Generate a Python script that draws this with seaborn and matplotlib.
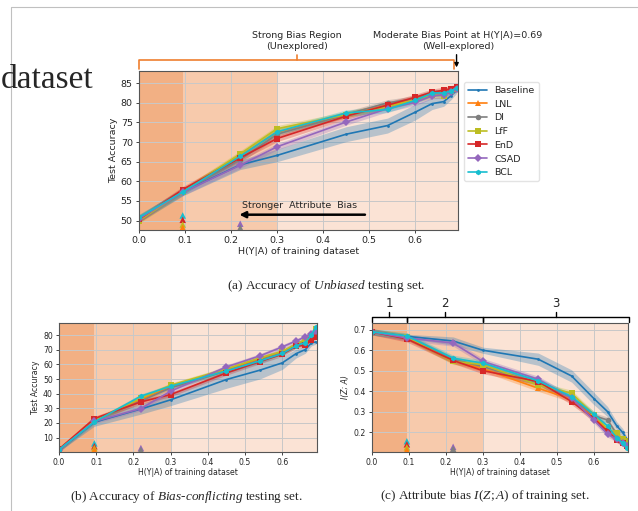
import matplotlib
matplotlib.use("Agg")
import numpy as np
import pandas as pd
import matplotlib.pyplot as plt
import seaborn as sns
from matplotlib.lines import Line2D

# H(Y|A) values of the training sets
h_vals = [0.0, 0.095, 0.22, 0.30, 0.45, 0.54, 0.60, 0.637, 0.662, 0.678, 0.69]
methods = ["Baseline", "LNL", "DI", "LfF", "EnD", "CSAD", "BCL"]
colors = ["#1f77b4", "#ff7f0e", "#7f7f7f", "#bcbd22", "#d62728", "#9467bd", "#17becf"]
markers = [".", "^", "o", "s", "s", "D", "h"]

# (a) unbiased test accuracy
unb_baseline = [50.5, 57.3, 64.2, 66.6, 72.0, 74.2, 77.6, 79.8, 80.3, 81.8, 83.2]
unb_lnl = [50.5, 57.5, 66.5, 72.5, 77.0, 79.3, 81.0, 82.3, 82.8, 83.2, 83.8]
unb_di = [50.5, 57.5, 65.5, 72.0, 77.0, 80.0, 81.0, 82.5, 82.7, 83.3, 83.8]
unb_lff = [50.0, 57.4, 67.0, 73.4, 77.0, 79.0, 80.8, 82.0, 81.8, 83.0, 83.5]
unb_end = [50.3, 57.9, 66.0, 70.9, 76.6, 79.4, 81.4, 82.7, 83.2, 83.6, 84.0]
unb_csad = [50.5, 57.2, 64.1, 68.8, 75.1, 78.5, 80.1, 81.8, 82.0, 82.8, 83.5]
unb_bcl = [50.8, 57.3, 66.4, 72.6, 77.4, 78.3, 80.6, 82.5, 82.5, 83.0, 83.8]
unb_base_std = [1.0, 1.0, 1.2, 1.6, 1.9, 1.9, 2.0, 1.5, 1.2, 1.0, 0.8]
unb_other_std = 0.8

# (b) bias-conflicting test accuracy
bc_baseline = [1.5, 20.5, 29.5, 35.8, 49.7, 56.1, 61.1, 67.4, 70.2, 74.7, 75.4]
bc_lnl = [1.8, 21.5, 36.0, 44.5, 56.0, 64.0, 68.5, 73.5, 76.5, 79.0, 83.0]
bc_di = [1.8, 21.5, 35.0, 44.0, 55.5, 63.0, 68.0, 73.0, 76.0, 78.5, 82.0]
bc_lff = [1.8, 21.5, 37.0, 45.8, 57.0, 64.5, 69.0, 74.0, 77.0, 79.5, 84.0]
bc_end = [2.0, 23.0, 34.4, 39.4, 54.2, 62.0, 67.0, 72.5, 73.1, 76.6, 78.9]
bc_csad = [1.5, 21.0, 29.8, 41.7, 58.3, 65.9, 72.0, 76.1, 78.9, 81.0, 83.0]
bc_bcl = [1.8, 20.7, 38.3, 45.1, 55.6, 62.4, 67.5, 72.7, 75.0, 80.0, 85.7]
bc_base_std = [1.0, 2.8, 3.5, 4.0, 6.0, 6.0, 4.5, 3.0, 2.5, 2.0, 1.5]
bc_other_std = 1.5

# (c) attribute bias I(Z;A)
mi_baseline = [0.69, 0.668, 0.645, 0.60, 0.556, 0.474, 0.364, 0.30, 0.23, 0.198, 0.163]
mi_lnl = [0.69, 0.665, 0.55, 0.51, 0.414, 0.36, 0.275, 0.205, 0.165, 0.15, 0.13]
mi_di = [0.69, 0.665, 0.555, 0.52, 0.44, 0.37, 0.28, 0.259, 0.19, 0.16, 0.135]
mi_lff = [0.69, 0.665, 0.545, 0.53, 0.43, 0.39, 0.285, 0.215, 0.195, 0.165, 0.155]
mi_end = [0.69, 0.655, 0.55, 0.50, 0.447, 0.349, 0.267, 0.203, 0.163, 0.145, 0.13]
mi_csad = [0.69, 0.66, 0.635, 0.545, 0.458, 0.365, 0.259, 0.19, 0.165, 0.145, 0.13]
mi_bcl = [0.69, 0.67, 0.561, 0.537, 0.45, 0.373, 0.287, 0.23, 0.171, 0.147, 0.122]
mi_base_std = [0.005, 0.01, 0.02, 0.015, 0.03, 0.03, 0.03, 0.025, 0.02, 0.02, 0.01]
mi_other_std = 0.015

# triangles sitting on the lower edge
tri_h = [0.095, 0.095, 0.095, 0.095, 0.22, 0.22]
tri_methods = ["BCL", "EnD", "LfF", "LNL", "CSAD", "DI"]
tri_unb = [51.3, 50.2, 49.0, 48.2, 49.2, 48.2]
tri_bc = [6.0, 4.0, 2.7, 1.5, 2.8, 1.5]
tri_mi = [0.155, 0.14, 0.125, 0.113, 0.128, 0.118]

sns.set_style("ticks")
plt.rcParams["font.family"] = ["DejaVu Sans"]
plt.rcParams["mathtext.fontset"] = "custom"
plt.rcParams["mathtext.rm"] = "Liberation Serif"
plt.rcParams["mathtext.it"] = "Liberation Serif:italic"

palette = dict(zip(methods, colors))
marker_map = dict(zip(methods, markers))
XMAX = np.log(2)


def draw_panel(ax, series, base_std, other_std, tri_vals, fs, legend=False):
    ax.axvspan(0, 0.095, color="#f2b084", lw=0, zorder=0)
    ax.axvspan(0.095, 0.3, color="#f7caac", lw=0, zorder=0)
    ax.axvspan(0.3, XMAX, color="#fbe3d5", lw=0, zorder=0)
    rows = []
    for m, vals in zip(methods, series):
        v = np.array(vals)
        s = np.array(base_std) if m == "Baseline" else other_std
        ax.fill_between(h_vals, v - s, v + s, color=palette[m],
                        alpha=0.3, lw=0, zorder=1)
        rows += [{"h": x, "v": y, "method": m} for x, y in zip(h_vals, vals)]
    df = pd.DataFrame(rows)
    sns.lineplot(data=df, x="h", y="v", hue="method", style="method",
                 hue_order=methods, style_order=methods, palette=palette,
                 markers=marker_map, dashes=False, errorbar=None, sort=False,
                 lw=1.2, markersize=4, markeredgewidth=0, ax=ax, legend=legend)
    tri = pd.DataFrame({"h": tri_h, "v": tri_vals, "method": tri_methods})
    sns.scatterplot(data=tri, x="h", y="v", hue="method", palette=palette,
                    marker="^", s=22, linewidth=0, ax=ax, legend=False, zorder=3)
    ax.set_xlim(0, XMAX)
    ax.set_xticks([0.0, 0.1, 0.2, 0.3, 0.4, 0.5, 0.6])
    ax.grid(True, color="#c8c8c8", lw=0.7)
    ax.set_xlabel("H(Y|A) of training dataset", fontsize=fs, labelpad=1)
    ax.tick_params(labelsize=fs, length=2.5, width=0.6, pad=2)
    for sp in ax.spines.values():
        sp.set_color("#555555")
        sp.set_linewidth(0.8)


fig = plt.figure(figsize=(6.38, 5.11), dpi=100)
W, H = 638.0, 511.0


def px_axes(l, t, r, b):
    return fig.add_axes([l / W, 1 - b / H, (r - l) / W, (b - t) / H])


ax_a = px_axes(139, 71, 458, 230)
ax_b = px_axes(59, 322.5, 317, 451.7)
ax_c = px_axes(371.7, 323, 628.3, 451.7)

draw_panel(ax_a, [unb_baseline, unb_lnl, unb_di, unb_lff, unb_end, unb_csad, unb_bcl],
           unb_base_std, unb_other_std, tri_unb, 6.8, legend=True)
ax_a.set_ylim(47.6, 88.1)
ax_a.set_yticks([50, 55, 60, 65, 70, 75, 80, 85])
ax_a.set_ylabel("Test Accuracy", fontsize=6.8, labelpad=2)
sns.move_legend(ax_a, "upper left", bbox_to_anchor=(1.02, 0.93), title=None,
                fontsize=6.8, frameon=True, borderaxespad=0)
ax_a.get_legend().get_frame().set_edgecolor("#dddddd")

draw_panel(ax_b, [bc_baseline, bc_lnl, bc_di, bc_lff, bc_end, bc_csad, bc_bcl],
           bc_base_std, bc_other_std, tri_bc, 5.6)
ax_b.set_ylim(0.3, 88.7)
ax_b.set_yticks([10, 20, 30, 40, 50, 60, 70, 80])
ax_b.set_ylabel("Test Accuracy", fontsize=5.6, labelpad=2)

draw_panel(ax_c, [mi_baseline, mi_lnl, mi_di, mi_lff, mi_end, mi_csad, mi_bcl],
           mi_base_std, mi_other_std, tri_mi, 5.6)
ax_c.set_ylim(0.104, 0.733)
ax_c.set_yticks([0.2, 0.3, 0.4, 0.5, 0.6, 0.7])
ax_c.set_ylabel("I(Z; A)", fontsize=5.6, fontstyle="italic", labelpad=2)

# annotations of panel (a)
orange = "#ef7f2f"
tr_a = ax_a.get_xaxis_transform()
ax_a.plot([0, 0, 0.685, 0.685], [1.013, 1.069, 1.069, 1.013], color=orange,
          lw=1.2, transform=tr_a, clip_on=False)
ax_a.plot([0.3425, 0.3425], [1.069, 1.10], color=orange, lw=1.2,
          transform=tr_a, clip_on=False)
ax_a.annotate("", xy=(0.69, 1.005), xytext=(0.69, 1.12), xycoords=tr_a,
              arrowprops=dict(arrowstyle="-|>", color="black", lw=1.0,
                              mutation_scale=6))
fig.text(297 / W, 1 - 41 / H, "Strong Bias Region\n(Unexplored)", ha="center",
         va="center", fontsize=6.8, linespacing=1.25)
fig.text(458 / W, 1 - 41 / H, "Moderate Bias Point at H(Y|A)=0.69\n(Well-explored)",
         ha="center", va="center", fontsize=6.8, linespacing=1.25)
ax_a.annotate("", xy=(0.212, 51.5), xytext=(0.497, 51.5),
              arrowprops=dict(arrowstyle="-|>", color="black", lw=1.8,
                              mutation_scale=9))
ax_a.text(0.224, 53.9, "Stronger  Attribute  Bias", fontsize=6.8, va="center")

# braces of panel (c)
tr_c = ax_c.get_xaxis_transform()
for (x0, x1), lab in zip([(0.0, 0.095), (0.095, 0.3), (0.3, 0.695)], ["1", "2", "3"]):
    ax_c.plot([x0, x0, x1, x1], [1.008, 1.047, 1.047, 1.008], color="black",
              lw=1.0, transform=tr_c, clip_on=False)
    xm = (x0 + x1) / 2
    ax_c.plot([xm, xm], [1.047, 1.085], color="black", lw=1.0,
              transform=tr_c, clip_on=False)
    ax_c.text(xm, 1.10, lab, transform=tr_c, ha="center", va="bottom", fontsize=8.5)

# captions
cap_kw = dict(ha="center", va="center", fontsize=9.5, family="Liberation Serif")
fig.text(326 / W, 1 - 286 / H, r"(a) Accuracy of $\mathit{Unbiased}$ testing set.", **cap_kw)
fig.text(186 / W, 1 - 496.5 / H,
         r"(b) Accuracy of $\mathit{Bias}$-$\mathit{conflicting}$ testing set.", **cap_kw)
fig.text(485 / W, 1 - 496 / H, r"(c) Attribute bias $I(Z;A)$ of training set.", **cap_kw)

# fragment of surrounding page
fig.text(1 / W, 1 - 88 / H, "dataset", ha="left", va="baseline", fontsize=24,
         family="Liberation Serif")
fig.add_artist(Line2D([10.7 / W, 10.7 / W, 1.0], [0.0, 1 - 7 / H, 1 - 7 / H],
                      color="#c0c0c0", lw=0.8))

fig.savefig("out.png", dpi=100)
